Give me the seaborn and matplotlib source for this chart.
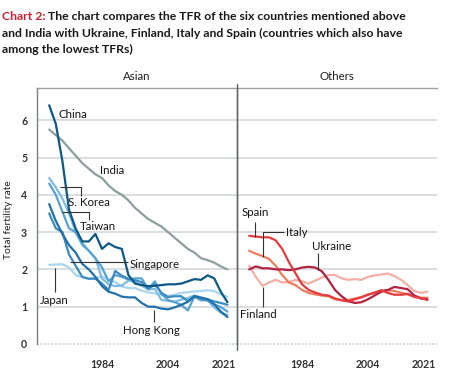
import matplotlib
matplotlib.use("Agg")
import matplotlib.pyplot as plt
from matplotlib.lines import Line2D
import seaborn as sns
import pandas as pd

# ---------------- data ----------------
years = list(range(1968, 2023, 2))

china     = [6.40, 5.90, 4.90, 3.60, 3.10, 2.75, 2.75, 2.95, 2.55, 2.70, 2.60, 2.55, 1.85, 1.62,
             1.58, 1.55, 1.56, 1.58, 1.60, 1.60, 1.62, 1.68, 1.74, 1.72, 1.84, 1.76, 1.40, 1.12]
india     = [5.75, 5.60, 5.45, 5.25, 5.05, 4.85, 4.70, 4.55, 4.45, 4.25, 4.10, 4.00, 3.85, 3.65,
             3.50, 3.35, 3.25, 3.15, 3.00, 2.85, 2.70, 2.55, 2.45, 2.30, 2.25, 2.18, 2.08, 2.00]
s_korea   = [4.45, 4.20, 3.90, 3.50, 3.00, 2.65, 2.50, 2.30, 1.75, 1.60, 1.55, 1.57, 1.70, 1.66,
             1.57, 1.46, 1.48, 1.18, 1.16, 1.13, 1.19, 1.23, 1.30, 1.21, 1.17, 0.98, 0.84, 0.78]
taiwan    = [4.30, 4.00, 3.55, 3.10, 3.00, 2.70, 2.50, 2.30, 2.05, 1.68, 1.85, 1.80, 1.73, 1.76,
             1.76, 1.47, 1.68, 1.34, 1.18, 1.12, 1.05, 0.90, 1.27, 1.17, 1.17, 1.06, 0.99, 0.87]
hong_kong = [3.75, 3.30, 2.95, 2.65, 2.45, 2.15, 2.00, 1.80, 1.55, 1.40, 1.35, 1.27, 1.25, 1.25,
             1.10, 1.00, 1.00, 0.95, 0.93, 0.98, 1.05, 1.13, 1.28, 1.23, 1.20, 1.07, 0.87, 0.72]
singapore = [3.50, 3.10, 3.00, 2.40, 2.10, 1.80, 1.75, 1.75, 1.62, 1.45, 1.96, 1.83, 1.75, 1.71,
             1.66, 1.48, 1.60, 1.37, 1.26, 1.28, 1.28, 1.15, 1.29, 1.25, 1.20, 1.14, 1.10, 1.05]
japan     = [2.12, 2.13, 2.14, 2.05, 1.85, 1.79, 1.75, 1.77, 1.81, 1.72, 1.66, 1.54, 1.50, 1.50,
             1.43, 1.38, 1.36, 1.32, 1.29, 1.32, 1.37, 1.39, 1.41, 1.42, 1.44, 1.42, 1.33, 1.26]

spain     = [2.90, 2.88, 2.86, 2.86, 2.78, 2.55, 2.20, 1.90, 1.60, 1.45, 1.38, 1.32, 1.30, 1.22,
             1.17, 1.14, 1.20, 1.25, 1.32, 1.38, 1.44, 1.37, 1.32, 1.32, 1.34, 1.26, 1.23, 1.18]
italy     = [2.50, 2.42, 2.36, 2.28, 2.10, 1.85, 1.65, 1.58, 1.45, 1.37, 1.33, 1.30, 1.28, 1.20,
             1.18, 1.18, 1.22, 1.26, 1.33, 1.36, 1.44, 1.44, 1.42, 1.37, 1.34, 1.29, 1.24, 1.24]
ukraine   = [2.00, 2.08, 2.03, 2.03, 2.00, 2.00, 1.98, 2.00, 2.05, 2.07, 2.05, 1.95, 1.72, 1.45,
             1.28, 1.15, 1.10, 1.12, 1.20, 1.30, 1.40, 1.45, 1.53, 1.50, 1.47, 1.30, 1.22, 1.20]
finland   = [2.10, 1.80, 1.56, 1.65, 1.72, 1.65, 1.66, 1.72, 1.68, 1.62, 1.70, 1.78, 1.85, 1.85,
             1.76, 1.72, 1.74, 1.72, 1.80, 1.84, 1.86, 1.89, 1.82, 1.72, 1.58, 1.42, 1.37, 1.40]

asian_names = ["India", "Japan", "S. Korea", "Taiwan", "Singapore", "Hong Kong", "China"]
asian_vals = [india, japan, s_korea, taiwan, singapore, hong_kong, china]
other_names = ["Finland", "Italy", "Ukraine", "Spain"]
other_vals = [finland, italy, ukraine, spain]

xticks = [1984, 2004, 2021]
yticks = [0, 1, 2, 3, 4, 5, 6]

# ---------------- styles ----------------
asian_pal = {"India": "#8d9e9e", "Japan": "#a9d5ef", "S. Korea": "#7dbce5",
             "Taiwan": "#55a2d3", "Singapore": "#3a8bc2", "Hong Kong": "#2170a8",
             "China": "#0e5887"}
other_pal = {"Finland": "#f6aea4", "Italy": "#f17c5c", "Ukraine": "#b32241", "Spain": "#e63b3e"}


def long_df(names, vals):
    rows = []
    for n, v in zip(names, vals):
        for y, t in zip(years, v):
            rows.append({"country": n, "year": y, "tfr": t})
    return pd.DataFrame(rows)


df_a = long_df(asian_names, asian_vals)
df_o = long_df(other_names, other_vals)

sns.set_style("white")
plt.rcParams["font.family"] = ["Lato", "DejaVu Sans"]

W, H = 453, 382
fig = plt.figure(figsize=(W / 100, H / 100), dpi=100)
AX_TOP, AX_BOT = 88, 344
ax1 = fig.add_axes([37 / W, (H - AX_BOT) / H, 200 / W, (AX_BOT - AX_TOP) / H])
ax2 = fig.add_axes([237 / W, (H - AX_BOT) / H, 200 / W, (AX_BOT - AX_TOP) / H])

XL = (1964.3, 2024.9)
YTOP = (AX_BOT - AX_TOP) / 37.3

for ax in (ax1, ax2):
    ax.set_xlim(*XL)
    ax.set_ylim(0, YTOP)
    for v in yticks[1:]:
        ax.axhline(v, color="#d6dbdd", lw=1.3, zorder=0)
    ax.axhline(0, color="#cfd4d6", lw=1.3, ls=(0, (1, 1)), zorder=0, clip_on=False)
    for s in ("right", "bottom"):
        ax.spines[s].set_visible(False)
    ax.spines["top"].set_color("#9aa0a2")
    ax.spines["top"].set_linewidth(1.0)
    ax.spines["left"].set_color("#7b7f80")
    ax.spines["left"].set_linewidth(1.0)
    ax.set_xticks(xticks)
    ax.set_xticklabels([str(t) for t in xticks], fontsize=7.6, fontweight="bold", color="#333333")
    ax.tick_params(axis="x", length=0, pad=11)

sns.lineplot(data=df_a, x="year", y="tfr", hue="country", hue_order=asian_names,
             palette=asian_pal, linewidth=1.6, legend=False, ax=ax1)
sns.lineplot(data=df_o, x="year", y="tfr", hue="country", hue_order=other_names,
             palette=other_pal, linewidth=1.6, legend=False, ax=ax2)

for ax in (ax1, ax2):
    ax.set_xlabel("")
    ax.set_ylabel("")
    ax.set_xlim(*XL)
    ax.set_ylim(0, YTOP)

ax1.set_yticks(yticks)
ax1.set_yticklabels([str(t) for t in yticks], fontsize=7.6, fontweight="bold", color="#333333")
ax1.tick_params(axis="y", length=0, pad=7)
ax2.set_yticks(yticks)
ax2.tick_params(axis="y", length=0, labelleft=False)

# panel headers
for ax, t in ((ax1, "Asian"), (ax2, "Others")):
    ax.text(0.5, 1 + 11 / (AX_BOT - AX_TOP), t, transform=ax.transAxes, ha="center",
            va="center", fontsize=8.3, color="#1e1e1e")

# divider line extending slightly past the plot frame
fig.add_artist(Line2D([237 / W, 237 / W], [(H - 350) / H, (H - 84) / H],
                      color="#5f6364", lw=1.0))


# ---------------- annotations (pixel-based placement) ----------------
def to_data(ax, left_px, x, y):
    return XL[0] + (x - left_px) / 3.3, (AX_BOT - y) / 37.3


lab_kw = dict(fontsize=8.3, color="#151515", va="center", ha="left")
lead_kw = dict(color="#333333", lw=0.8, solid_capstyle="butt")

left_labels = [("China", 58, 115), ("India", 100, 170), ("S. Korea", 68, 203),
               ("Taiwan", 80, 227), ("Singapore", 130, 265), ("Japan", 40, 300),
               ("Hong Kong", 123, 330)]
left_leaders = [[(60, 187), (81, 187), (81, 196)], [(62, 212), (89, 212), (89, 220)],
                [(70, 262), (128, 262)], [(55, 268), (55, 292)], [(154, 310), (154, 322)]]
right_labels = [("Spain", 242, 213), ("Italy", 286, 232), ("Ukraine", 312, 247),
                ("Finland", 240, 315)]
right_leaders = [[(255, 222), (255, 237)], [(284, 232), (263, 232), (263, 257)],
                 [(318, 253), (318, 270)], [(263, 287), (263, 307)]]

for ax, lp, labels, leaders in ((ax1, 37, left_labels, left_leaders),
                                (ax2, 237, right_labels, right_leaders)):
    for t, x, y in labels:
        dx, dy = to_data(ax, lp, x, y)
        ax.text(dx, dy, t, **lab_kw, clip_on=False)
    for pts in leaders:
        xs, ys = zip(*[to_data(ax, lp, px, py) for px, py in pts])
        ax.plot(xs, ys, **lead_kw, clip_on=False)

# y-axis label
fig.text(9 / W, 1 - 220 / H, "Total fertility rate", rotation=90, ha="center", va="center",
         fontsize=7.4, color="#222222")

# ---------------- title ----------------
tfs = 8.85
red_part = fig.text(2 / W, 1 - 16 / H, "Chart 2:", color="#d0202f", fontweight="bold",
                    fontsize=tfs, ha="left", va="center")
fig.canvas.draw()
bb = red_part.get_window_extent()
fig.text((bb.x1 + 3) / W, 1 - 16 / H,
         "The chart compares the TFR of the six countries mentioned above",
         color="#1a1a1a", fontweight="bold", fontsize=tfs, ha="left", va="center")
fig.text(2 / W, 1 - 33 / H,
         "and India with Ukraine, Finland, Italy and Spain (countries which also have",
         color="#1a1a1a", fontweight="bold", fontsize=tfs, ha="left", va="center")
fig.text(2 / W, 1 - 49 / H, "among the lowest TFRs)",
         color="#1a1a1a", fontweight="bold", fontsize=tfs, ha="left", va="center")

fig.savefig("out.png", dpi=100)
